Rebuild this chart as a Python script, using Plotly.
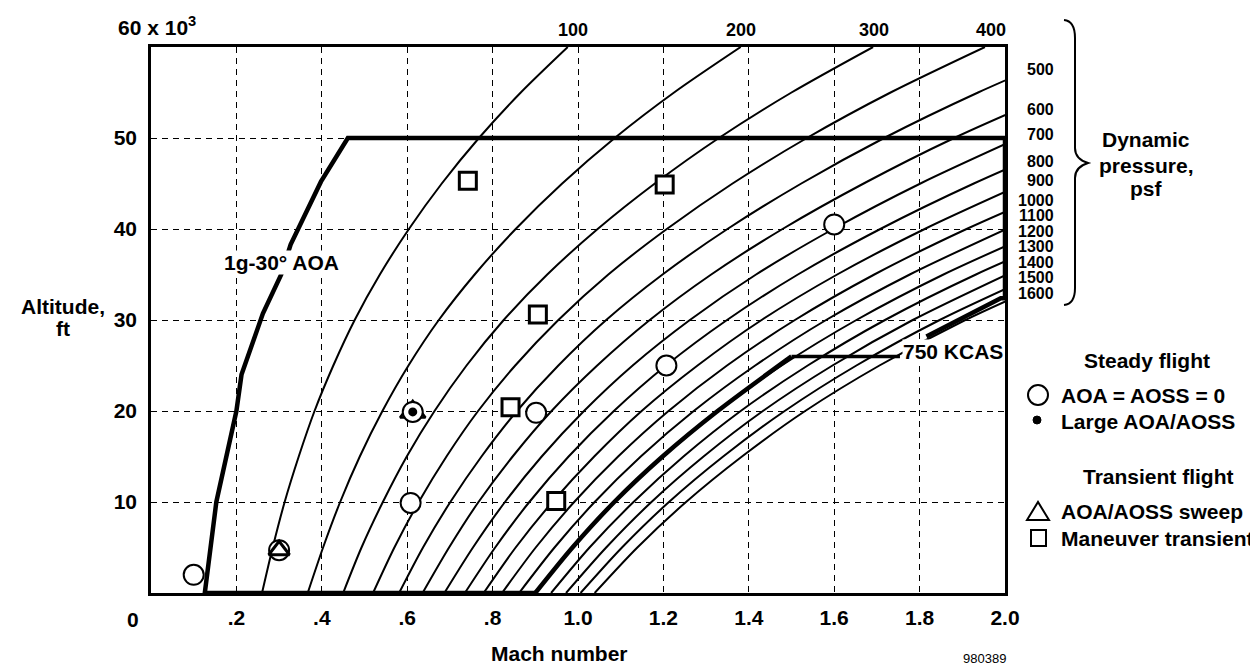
import plotly.graph_objects as go

# ---------------- data ----------------
altitude_ft = [0, 5000, 10000, 15000, 20000, 25000, 30000, 35000, 40000, 45000, 50000, 55000, 60000]

q_levels = [100, 200, 300, 400, 500, 600, 700, 800, 900, 1000, 1100, 1200, 1300, 1400, 1500, 1600]
mach_q100 = [0.260, 0.285, 0.313, 0.346, 0.383, 0.427, 0.477, 0.536, 0.604, 0.681, 0.768, 0.866, 0.976]
mach_q200 = [0.367, 0.403, 0.443, 0.489, 0.542, 0.603, 0.674, 0.758, 0.854, 0.963, 1.086, 1.225, 1.381]
mach_q300 = [0.450, 0.493, 0.543, 0.599, 0.664, 0.739, 0.826, 0.928, 1.046, 1.180, 1.330, 1.500, 1.691]
mach_q400 = [0.520, 0.570, 0.627, 0.692, 0.766, 0.853, 0.954, 1.071, 1.208, 1.362, 1.536, 1.732, 1.953]
mach_q500 = [0.581, 0.637, 0.701, 0.774, 0.857, 0.954, 1.066, 1.198, 1.350, 1.523, 1.717, 1.937, 2.183]
mach_q600 = [0.636, 0.698, 0.767, 0.847, 0.938, 1.045, 1.168, 1.312, 1.479, 1.669, 1.881, 2.122]
mach_q700 = [0.687, 0.754, 0.829, 0.915, 1.014, 1.128, 1.262, 1.417, 1.598, 1.802, 2.032]
mach_q800 = [0.735, 0.806, 0.886, 0.978, 1.084, 1.206, 1.349, 1.515, 1.708, 1.927, 2.172]
mach_q900 = [0.779, 0.854, 0.940, 1.038, 1.149, 1.280, 1.430, 1.607, 1.812, 2.044]
mach_q1000 = [0.822, 0.901, 0.991, 1.094, 1.212, 1.349, 1.508, 1.694, 1.910, 2.154]
mach_q1100 = [0.862, 0.945, 1.039, 1.147, 1.271, 1.415, 1.581, 1.777, 2.003]
mach_q1200 = [0.900, 0.987, 1.085, 1.198, 1.327, 1.477, 1.652, 1.856, 2.092]
mach_q1300 = [0.937, 1.027, 1.130, 1.247, 1.381, 1.538, 1.719, 1.932, 2.177]
mach_q1400 = [0.972, 1.066, 1.172, 1.294, 1.433, 1.596, 1.784, 2.004]
mach_q1500 = [1.006, 1.103, 1.213, 1.340, 1.484, 1.652, 1.847, 2.075]
mach_q1600 = [1.039, 1.139, 1.253, 1.384, 1.532, 1.706, 1.907, 2.143]
q_curves = [mach_q100, mach_q200, mach_q300, mach_q400, mach_q500, mach_q600, mach_q700,
            mach_q800, mach_q900, mach_q1000, mach_q1100, mach_q1200, mach_q1300,
            mach_q1400, mach_q1500, mach_q1600]

# flight envelope: bottom, 1g-30 deg AOA boundary, 50,000 ft ceiling, right edge, upper limit
envelope_mach = [0.900, 0.126, 0.153, 0.200, 0.212, 0.262, 0.305, 0.327, 0.398, 0.461,
                 2.0, 2.0, 1.99, 1.816]
envelope_alt = [0, 0, 10000, 20000, 24000, 30700, 35000, 38300, 45200, 50000,
                50000, 32400, 32400, 28200]
# 750 KCAS limit curve and its leader to the label
kcas_mach = [0.900, 0.987, 1.085, 1.198, 1.327, 1.500]
kcas_alt = [0, 5000, 10000, 15000, 20000, 26000]
kcas_leader_mach = [1.500, 1.754]
kcas_leader_alt = [26000, 26000]

# test points
circle_mach = [0.10, 0.608, 0.613, 0.902, 1.207, 1.60, 0.30]
circle_alt = [2000, 9900, 19900, 19800, 25000, 40500, 4700]
dot_mach = [0.613]
dot_alt = [19900]
triangle_mach = [0.30, 0.613]
triangle_alt = [4700, 19900]
square_mach = [0.742, 1.203, 0.906, 0.842, 0.949]
square_alt = [45300, 44900, 30600, 20400, 10100]

x_tick_vals = [0.2, 0.4, 0.6, 0.8, 1.0, 1.2, 1.4, 1.6, 1.8, 2.0]
x_tick_text = [".2", ".4", ".6", ".8", "1.0", "1.2", "1.4", "1.6", "1.8", "2.0"]
y_tick_vals = [10000, 20000, 30000, 40000, 50000]
y_tick_text = ["10", "20", "30", "40", "50"]

# ---------------- layout geometry (pixels) ----------------
FIG_W, FIG_H = 1258, 666
L, R, T, B = 143, 997, 39, 585
FONT = "Liberation Sans, Arial, Helvetica, sans-serif"


def px(x):
    return (x - L) / (R - L)


def py(y):
    return (B - y) / (B - T)


fig = go.Figure()

for mach in q_curves:
    fig.add_trace(go.Scatter(
        x=mach, y=altitude_ft[:len(mach)], mode="lines",
        line=dict(color="black", width=2, shape="spline", smoothing=0.8),
        showlegend=False, hoverinfo="skip"))

fig.add_trace(go.Scatter(
    x=envelope_mach, y=envelope_alt, mode="lines",
    line=dict(color="black", width=4.5), showlegend=False, hoverinfo="skip"))
fig.add_trace(go.Scatter(
    x=kcas_mach, y=kcas_alt, mode="lines",
    line=dict(color="black", width=4.5, shape="spline", smoothing=0.8),
    showlegend=False, hoverinfo="skip"))
fig.add_trace(go.Scatter(
    x=kcas_leader_mach, y=kcas_leader_alt, mode="lines",
    line=dict(color="black", width=3.5), showlegend=False, hoverinfo="skip"))

# triangle behind the circle at the large AOA point
fig.add_trace(go.Scatter(
    x=triangle_mach[1:], y=triangle_alt[1:], mode="markers",
    marker=dict(symbol="triangle-up", size=22, color="white", line=dict(color="black", width=2.5)),
    showlegend=False, hoverinfo="skip"))
fig.add_trace(go.Scatter(
    x=circle_mach, y=circle_alt, mode="markers",
    marker=dict(symbol="circle", size=20, color="white", line=dict(color="black", width=2)),
    showlegend=False, hoverinfo="skip"))
fig.add_trace(go.Scatter(
    x=dot_mach, y=dot_alt, mode="markers",
    marker=dict(symbol="circle", size=9, color="black"),
    showlegend=False, hoverinfo="skip"))
fig.add_trace(go.Scatter(
    x=triangle_mach[:1], y=triangle_alt[:1], mode="markers",
    marker=dict(symbol="triangle-up", size=18, color="white", line=dict(color="black", width=3)),
    showlegend=False, hoverinfo="skip"))
fig.add_trace(go.Scatter(
    x=square_mach, y=square_alt, mode="markers",
    marker=dict(symbol="square", size=17, color="white", line=dict(color="black", width=3)),
    showlegend=False, hoverinfo="skip"))

annotations = []


def text(x, y, s, size=21, xanchor="center", yanchor="middle", bold=True, bg=None):
    d = dict(x=px(x), y=py(y), xref="paper", yref="paper", text=s, showarrow=False,
             xanchor=xanchor, yanchor=yanchor,
             font=dict(family=FONT, size=size, color="black", weight="bold" if bold else "normal"))
    if bg:
        d["bgcolor"] = bg
        d["borderpad"] = 0
    annotations.append(d)


# on-chart labels
text(273.5, 254, "1g-30° AOA", bg="white")
text(945, 343, "750 KCAS", bg="white")

# top dynamic-pressure labels
for q, xpix in zip(q_levels[:4], [565, 733, 866, 983]):
    text(xpix, 22, str(q), size=18)
# right dynamic-pressure labels
for q, ypix in zip(q_levels[4:], [62, 101, 127, 153, 172, 192, 207.5, 223, 238.5, 254, 269.5, 285]):
    text(1048, ypix, str(q), size=16, xanchor="right")

text(1138, 132, "Dynamic")
text(1138, 157, "pressure,")
text(1138, 181, "psf")

# axis texts
text(108, 33, "60 x 10<sup>3</sup>", xanchor="left", yanchor="bottom")
text(125, 611, "0")
text(55, 298, "Altitude,")
text(55, 320, "ft")
text(551, 645, "Mach number")
text(1000, 650, "980389", size=13, xanchor="right", bold=False)

# legend
text(1139, 352, "Steady flight")
text(1051, 387, "AOA = AOSS = 0", xanchor="left")
text(1051, 413, "Large AOA/AOSS", xanchor="left")
text(1150, 468, "Transient flight")
text(1051, 503, "AOA/AOSS sweep", xanchor="left")
text(1051, 530, "Maneuver transient", xanchor="left")

shapes = []
shapes.append(dict(type="circle", xref="paper", yref="paper",
                   x0=px(1020), x1=px(1040), y0=py(397), y1=py(377),
                   line=dict(color="black", width=2), fillcolor="white"))
shapes.append(dict(type="circle", xref="paper", yref="paper",
                   x0=px(1025), x1=px(1033), y0=py(416), y1=py(408),
                   line=dict(color="black", width=1), fillcolor="black"))
tri = [(1019, 512), (1030, 494), (1041, 512)]
shapes.append(dict(type="path", xref="paper", yref="paper",
                   path="M {} {} L {} {} L {} {} Z".format(px(tri[0][0]), py(tri[0][1]), px(tri[1][0]), py(tri[1][1]),
                                                           px(tri[2][0]), py(tri[2][1])),
                   line=dict(color="black", width=2)))
shapes.append(dict(type="rect", xref="paper", yref="paper",
                   x0=px(1023), x1=px(1038), y0=py(538), y1=py(522),
                   line=dict(color="black", width=2)))


def P(x, y):
    return "{:.5f},{:.5f}".format(px(x), py(y))


brace = ("M " + P(1056, 12) + " Q " + P(1067, 13) + " " + P(1067, 30) + " L " + P(1067, 140) +
         " Q " + P(1067, 151) + " " + P(1080, 155) + " Q " + P(1067, 159) + " " + P(1067, 170) +
         " L " + P(1067, 280) + " Q " + P(1067, 296) + " " + P(1056, 297))
shapes.append(dict(type="path", xref="paper", yref="paper", path=brace,
                   line=dict(color="black", width=2)))

fig.update_layout(
    width=FIG_W, height=FIG_H,
    margin=dict(l=L, r=FIG_W - R, t=T, b=FIG_H - B, pad=0),
    paper_bgcolor="white", plot_bgcolor="white",
    font=dict(family=FONT, color="black"),
    annotations=annotations, shapes=shapes,
    showlegend=False,
)
fig.update_xaxes(
    range=[0, 2.0], tickvals=x_tick_vals, ticktext=x_tick_text,
    tickfont=dict(family=FONT, size=21, color="black", weight="bold"),
    showgrid=True, gridcolor="black", gridwidth=1, griddash="6px,5px",
    showline=True, linecolor="black", linewidth=2.5, mirror=True,
    ticks="", ticklabelstandoff=4, zeroline=False, fixedrange=True)
fig.update_yaxes(
    range=[0, 60000], tickvals=y_tick_vals, ticktext=y_tick_text,
    tickfont=dict(family=FONT, size=21, color="black", weight="bold"),
    showgrid=True, gridcolor="black", gridwidth=1, griddash="6px,5px",
    showline=True, linecolor="black", linewidth=2.5, mirror=True,
    ticks="", ticklabelstandoff=7, zeroline=False, fixedrange=True)

fig.write_html("out.html")
